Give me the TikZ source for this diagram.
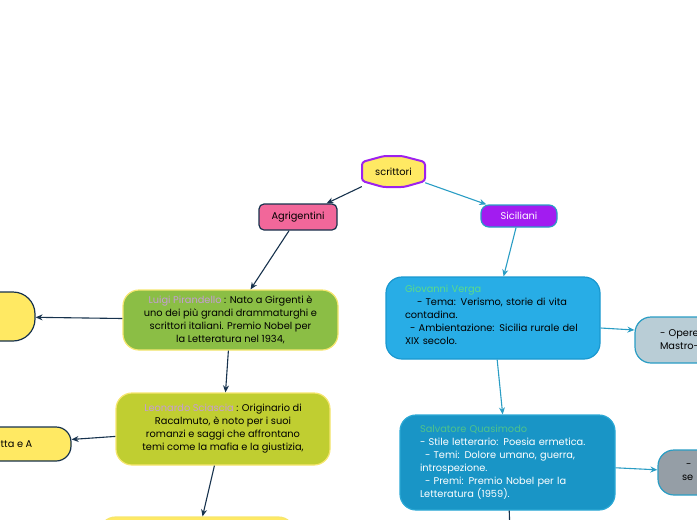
\documentclass[tikz,border=0pt]{standalone}
\usepackage{fontspec}
\setmainfont{Poppins}
\usetikzlibrary{arrows.meta,positioning}
\definecolor{navy}{HTML}{17324D}
\definecolor{tealline}{HTML}{2A9DC4}
\definecolor{pinkbox}{HTML}{F2679A}
\definecolor{purplebox}{HTML}{A21CF0}
\definecolor{purpleline}{HTML}{9D21EE}
\definecolor{yellowbox}{HTML}{FFE963}
\definecolor{yellowline}{HTML}{F6E66F}
\definecolor{greenbox}{HTML}{8BBE45}
\definecolor{limebox}{HTML}{C0CE31}
\definecolor{vergabox}{HTML}{28ADE6}
\definecolor{vergaline}{HTML}{1A98CF}
\definecolor{quasibox}{HTML}{1995C6}
\definecolor{quasiline}{HTML}{2AA8D5}
\definecolor{mastrobox}{HTML}{B9CDD6}
\definecolor{greybox}{HTML}{959EA6}
\definecolor{namepurple}{HTML}{C69CD6}
\definecolor{namegreen}{HTML}{5BDA8A}
\definecolor{namegreenb}{HTML}{4FC38B}

\begin{document}
\begin{tikzpicture}[x=1pt,y=-1pt,
  font=\fontsize{9.8}{13}\selectfont,
  box/.style={draw, rounded corners=16pt, line width=1.2pt, inner sep=0pt, align=center},
  navyarrow/.style={draw=navy, line width=1.1pt, -{Stealth[length=7pt,width=6pt]}},
  tealarrow/.style={draw=tealline, line width=1.1pt, -{Stealth[length=7pt,width=6pt]}}]
\useasboundingbox (0,0) rectangle (697,520);
\clip (0,0) rectangle (697,520);

% centre
\draw[fill=yellowbox, draw=purpleline, line width=2pt, rounded corners=3pt]
  (362,162) -- (384,156) -- (402,156) -- (425,162) -- (425,181) -- (404,187) -- (383,187) -- (362,181) -- cycle;
\node[minimum width=63pt, minimum height=31pt, inner sep=0pt] (scr) at (393.5,171.5) {scrittori};

% first level
\node[box, fill=pinkbox, draw=navy, rounded corners=5pt, minimum width=78pt, minimum height=26pt] (agri) at (298,217) {Agrigentini};
\node[box, fill=purplebox, draw=tealline, text=white, rounded corners=8pt, minimum width=76pt, minimum height=22pt] (sici) at (519,216) {Siciliani};

% Agrigentini
\node[box, fill=greenbox, draw=yellowline, minimum width=215pt, minimum height=60pt] (pira) at (230.5,320)
  {\textcolor{namepurple}{Luigi Pirandello} : Nato a Girgenti è\\uno dei più grandi drammaturghi e\\scrittori italiani. Premio Nobel per\\la Letteratura nel 1934,};
\node[box, fill=limebox, draw=yellowline, minimum width=214pt, minimum height=72pt] (scia) at (223,429)
  {\textcolor{namepurple}{Leonardo Sciascia} : Originario di\\Racalmuto, è noto per i suoi\\romanzi e saggi che affrontano\\temi come la mafia e la giustizia,};
\node[box, fill=yellowbox, draw=navy, rounded corners=22pt, minimum width=115pt, minimum height=49pt] (pirasub) at (-22.5,316.5) {};
\node[box, fill=yellowbox, draw=navy, rounded corners=15pt, minimum width=131pt, minimum height=34pt] (sciasub) at (5.5,444) {\hspace*{22pt}tta e A};
\node[box, fill=yellowbox, draw=yellowline, minimum width=195pt, minimum height=46pt] (third) at (197,540) {};

% Siciliani
\node[box, fill=vergabox, draw=vergaline, text=black, align=left, text width=176pt, minimum width=214pt, minimum height=82pt, inner xsep=19pt] (verga) at (493,318)
  {\textcolor{namegreen}{Giovanni Verga}\\\hspace*{12pt}- Tema: Verismo, storie di vita\\contadina.\\\hspace*{5pt}- Ambientazione: Sicilia rurale del\\XIX secolo.\\[-6pt]\mbox{}};
\node[box, fill=quasibox, draw=quasiline, text=white, align=left, text width=175pt, minimum width=215pt, minimum height=95pt, inner xsep=20pt] (quasi) at (507.5,462.5)
  {\textcolor{namegreenb}{Salvatore Quasimodo}\\- Stile letterario: Poesia ermetica.\\\hspace*{5pt}- Temi: Dolore umano, guerra,\\introspezione.\\\hspace*{5pt}- Premi: Premio Nobel per la\\Letteratura (1959).};
\node[box, fill=mastrobox, draw=tealline, align=left, text width=70pt, minimum width=120pt, minimum height=46pt, inner xsep=25pt] (mastro) at (695,340) {- Opere\\Mastro-};
\node[box, fill=greybox, draw=tealline, align=left, text width=60pt, minimum width=100pt, minimum height=45pt, inner xsep=24pt] (quasisub) at (712,472.5) {\hspace*{4pt}-\\se};
\coordinate (below) at (511,560);

% connectors
\draw[navyarrow] (scr) -- (agri);
\draw[tealarrow] (scr) -- (sici);
\draw[navyarrow] (agri) -- (pira);
\draw[navyarrow] (pira) -- (pirasub);
\draw[navyarrow] (pira) -- (scia);
\draw[navyarrow] (scia) -- (sciasub);
\draw[navyarrow] (scia) -- (third);
\draw[tealarrow] (sici) -- (verga);
\draw[tealarrow] ([yshift=-10pt]verga.east) -- ([yshift=10pt]mastro.west);
\draw[tealarrow] (verga) -- (quasi);
\draw[tealarrow] (quasi) -- (quasisub);
\draw[navy, line width=1.1pt] (quasi) -- (below);
\end{tikzpicture}
\end{document}
